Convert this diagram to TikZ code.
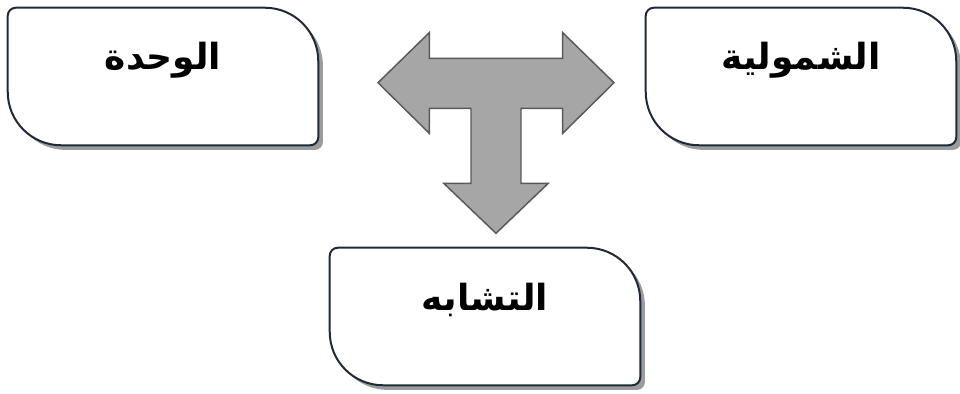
\documentclass[tikz,border=0pt]{standalone}
\usepackage{fontspec}
\usepackage{xcolor}
\usetikzlibrary{backgrounds}
\TeXXeTstate=1
\newfontfamily\arabicfont[Script=Arabic]{DejaVu Sans}
\definecolor{edge}{HTML}{1E2A38}
\definecolor{shade}{HTML}{9C9C9C}
\definecolor{arrowfill}{HTML}{A6A6A6}
\definecolor{arrowline}{HTML}{595959}
\newcommand{\ar}[1]{\beginR #1\endR}
% outline round a node: small round corners top left and bottom right, wide ones elsewhere
\newcommand{\leafpath}[1]{%
  ([yshift=-6pt]#1.north west) arc[start angle=180,end angle=90,radius=6pt]
  -- ([xshift=-40pt]#1.north east) arc[start angle=90,end angle=0,radius=40pt]
  -- ([yshift=6pt]#1.south east) arc[start angle=0,end angle=-90,radius=6pt]
  -- ([xshift=40pt]#1.south west) arc[start angle=-90,end angle=-180,radius=40pt]
  -- cycle}

\begin{document}
\begin{tikzpicture}[x=0.75pt, y=0.75pt,
    leafbox/.style={anchor=base, inner sep=0pt, align=center,
      text width=232.5pt, text height=46.5pt, text depth=56.25pt,
      font=\arabicfont\bfseries\fontsize{27}{32}\selectfont},
    leafline/.style={draw=edge, line width=1.5pt, fill=white},
    leafshadow/.style={fill=shade, transform canvas={shift={(3.5pt,-3.5pt)}}},
    tarrow/.style={fill=arrowfill, draw=arrowline, line width=1.1pt, line join=miter}]
  \useasboundingbox (0,0) rectangle (960,393);

  \node[leafbox] (unity) at (163,323) {\ar{الوحدة}};
  \node[leafbox] (totality) at (801,323) {\ar{الشمولية}};
  \node[leafbox] (likeness) at (485,83) {\ar{التشابه}};

  \begin{scope}[on background layer]
    \foreach \b in {unity,totality,likeness} {
      \fill[leafshadow] \leafpath{\b};
      \draw[leafline] \leafpath{\b};
    }
  \end{scope}

  % three-headed block arrow
  \draw[tarrow] (378,310.3) -- (429.3,360.3) -- (429.3,334.7) -- (562.7,334.7)
    -- (562.7,360.3) -- (614,310.3) -- (562.7,259.7) -- (562.7,284.7)
    -- (521,284.7) -- (521,209.7) -- (548.3,209.7) -- (496,159.7)
    -- (443.7,209.7) -- (471,209.7) -- (471,284.7) -- (429.3,284.7)
    -- (429.3,259.7) -- cycle;
\end{tikzpicture}
\end{document}
